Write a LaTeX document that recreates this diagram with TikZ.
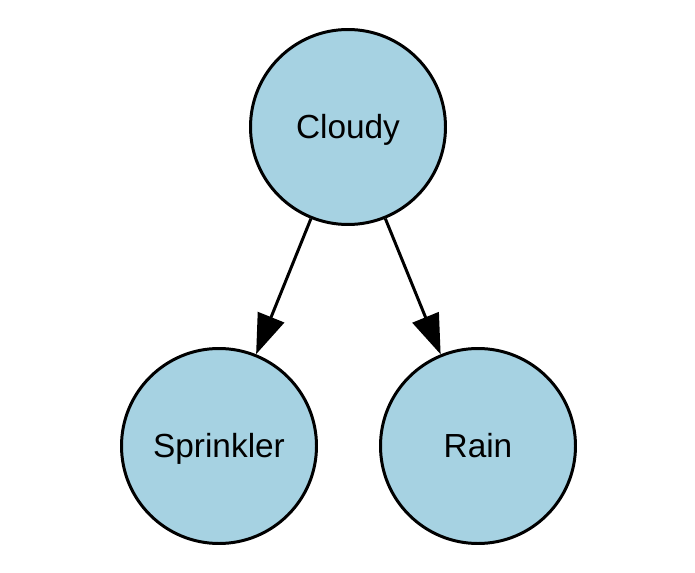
\documentclass[tikz,border=0pt]{standalone}
\usepackage{fontspec}
\setmainfont{Liberation Sans}
\usepackage{xcolor}
\usetikzlibrary{arrows.meta}
\definecolor{nodeblue}{RGB}{166,210,226}
\tikzset{
  varnode/.style = {circle, draw, fill=nodeblue, line width=1.7pt,
                    minimum size=3.9cm, inner sep=0pt,
                    text height=13.6pt, text depth=0pt,
                    font=\fontsize{19}{22}\selectfont},
  edge/.style    = {-{Triangle[length=0.8cm, width=0.56cm]}, line width=1.7pt}
}
\begin{document}
\begin{tikzpicture}
  \useasboundingbox (0,0) rectangle (13.9,-11.46);
  \node[varnode] (cloudy)    at (6.96,-2.54) {Cloudy};
  \node[varnode] (sprinkler) at (4.38,-8.92) {Sprinkler};
  \node[varnode] (rain)      at (9.56,-8.92) {Rain};
  \draw[edge] (cloudy) -- (sprinkler);
  \draw[edge] (cloudy) -- (rain);
\end{tikzpicture}
\end{document}
